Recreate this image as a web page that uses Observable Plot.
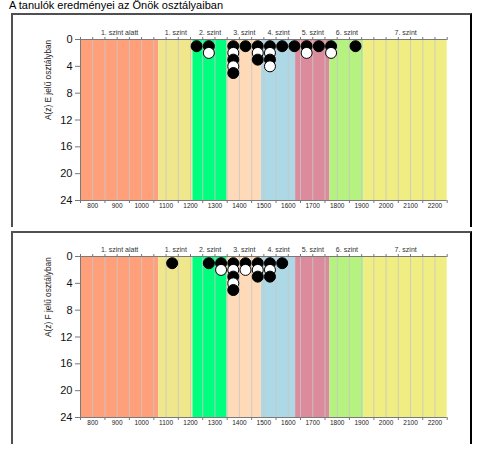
<!DOCTYPE html>
<html>
<head>
<meta charset="utf-8">
<script src="https://cdn.jsdelivr.net/npm/d3@7"></script>
<script src="https://cdn.jsdelivr.net/npm/@observablehq/plot@0.6"></script>
<style>
  html, body { margin: 0; padding: 0; background: #fff; width: 485px; height: 452px; overflow: hidden; }
  body { position: relative; font-family: "Liberation Sans", Arial, sans-serif; }
  #title { position: absolute; left: 9px; top: -1px; font-size: 11px; line-height: 13px; color: #000; }
  .frame { position: absolute; box-sizing: border-box; left: 11px; width: 461px;
           border-top: 2px solid #505050; border-left: 2px solid #505050; border-right: 2.5px solid #000; pointer-events: none; }
  .chart { position: absolute; left: 0; }
</style>
</head>
<body>
<div id="title">A tanulók eredményei az Önök osztályaiban</div>
<div class="chart" id="c1" style="top:0px"></div>
<div class="chart" id="c2" style="top:217px"></div>
<div class="frame" style="top:13px;height:214px"></div>
<div class="frame" style="top:231px;height:213px"></div>
<script>
// Level bands
const levelNames  = ["1. szint alatt", "1. szint", "2. szint", "3. szint", "4. szint", "5. szint", "6. szint", "7. szint"];
const levelStarts = [750, 1070, 1210, 1350, 1490, 1630, 1770, 1910];
const levelEnds   = [1070, 1210, 1350, 1490, 1630, 1770, 1910, 2250];
const levelColors = ["#FFA07A", "#F0E68C", "#00FF7F", "#FFDAB9", "#ADD8E6", "#DB8B9B", "#B5F27F", "#F0EE82"];

// Tick values
const xLabelTicks = [800, 900, 1000, 1100, 1200, 1300, 1400, 1500, 1600, 1700, 1800, 1900, 2000, 2100, 2200];
const xBottomTicks = [750, 850, 950, 1050, 1150, 1250, 1350, 1450, 1550, 1650, 1750, 1850, 1950, 2050, 2150, 2250];
const xTopTicks = [750, 800, 850, 900, 950, 1000, 1050, 1100, 1150, 1200, 1250, 1300, 1350, 1400, 1450, 1500, 1550, 1600, 1650, 1700, 1750, 1800, 1850, 1900, 1950, 2000, 2050, 2100, 2150, 2200, 2250];
const gridTicks = [800, 850, 900, 950, 1000, 1050, 1100, 1150, 1200, 1250, 1300, 1350, 1400, 1450, 1500, 1550, 1600, 1650, 1700, 1750, 1800, 1850, 1900, 1950, 2000, 2050, 2100, 2150, 2200];
const yTicks = [0, 4, 8, 12, 16, 20, 24];

// Panel E
const yLabelE = "A(z) E jelű osztályban";
const binsE   = [1225, 1275, 1375, 1425, 1475, 1525, 1575, 1625, 1675, 1725, 1775, 1875];
const countsE = [1, 2, 5, 1, 3, 4, 1, 1, 2, 1, 2, 1];

// Panel F
const yLabelF = "A(z) F jelű osztályban";
const binsF   = [1125, 1275, 1325, 1375, 1425, 1475, 1525, 1575];
const countsF = [1, 1, 2, 5, 2, 3, 3, 1];

const bands = levelNames.map((name, i) => ({name, x1: levelStarts[i], x2: levelEnds[i], color: levelColors[i], mid: (levelStarts[i] + levelEnds[i]) / 2}));

function makeChart(bins, counts, yLabel) {
  const dots = [];
  bins.forEach((b, i) => { for (let k = 1; k <= counts[i]; k++) dots.push({x: b, k}); });
  const H = 227;
  return Plot.plot({
    width: 485,
    height: H,
    marginLeft: 80,
    marginRight: 38.3,
    marginTop: 39,
    marginBottom: 27,
    style: {background: "transparent", fontFamily: "Liberation Sans, Arial, sans-serif", overflow: "visible"},
    x: {domain: [750, 2250], axis: null},
    y: {domain: [0, 24], reverse: true, axis: null},
    marks: [
      Plot.rect(bands, {x1: "x1", x2: "x2", y1: 0, y2: 24, fill: "color"}),
      Plot.ruleX(gridTicks, {y1: 0, y2: 24, stroke: "#c8c8c8", strokeOpacity: 0.85, strokeWidth: 1}),
      Plot.ruleY([0, 24], {stroke: "#7a7a7a", strokeWidth: 1}),
      Plot.ruleX([750], {y1: 0, y2: 24, stroke: "#7a7a7a", strokeWidth: 1}),
      Plot.axisX(xBottomTicks, {anchor: "bottom", tickSize: 3, tickFormat: () => "", stroke: "#777", label: null}),
      Plot.axisX(xLabelTicks, {anchor: "bottom", tickSize: 0, tickPadding: 3, fontSize: 6.5, fill: "#222", tickFormat: d => String(d), label: null}),
      Plot.axisX(xTopTicks, {anchor: "top", tickSize: 3, tickFormat: () => "", stroke: "#777", label: null}),
      Plot.text(bands, {x: "mid", y: 0, dy: -6.5, text: "name", fontSize: 7, fill: "#333"}),
      Plot.axisY(yTicks, {anchor: "left", tickSize: 5, tickPadding: 3, fontSize: 11, fill: "#111", stroke: "#777", tickFormat: d => String(d), label: null}),
      Plot.text([yLabel], {frameAnchor: "left", dx: -32, rotate: -90, fontSize: 8.3, fill: "#222"}),
      Plot.dot(dots, {x: "x", y: "k", r: 5.5, fill: d => d.k % 2 === 1 ? "black" : "white", stroke: "black", strokeWidth: 1})
    ]
  });
}

document.getElementById("c1").appendChild(makeChart(binsE, countsE, yLabelE));
document.getElementById("c2").appendChild(makeChart(binsF, countsF, yLabelF));
</script>
</body>
</html>
